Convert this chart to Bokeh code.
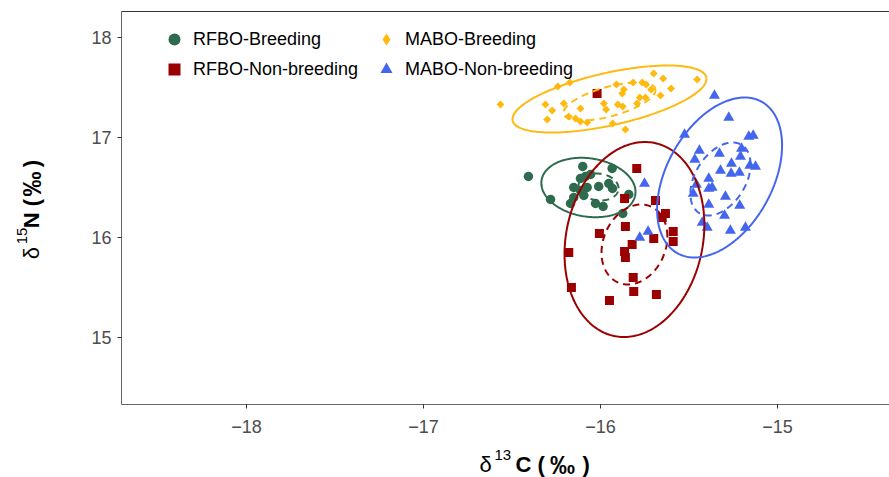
import numpy as np
from bokeh.plotting import figure
from bokeh.layouts import column, row
from bokeh.models import (Range1d, LinearAxis, FixedTicker, Legend, LegendItem)
from bokeh.core.properties import value
from bokeh.embed import file_html
from bokeh.resources import INLINE

# ---------------- data ----------------
rfbo_b_x = [-16.407, -16.282, -16.100, -15.934, -16.056, -16.113, -16.085, -16.151,
            -16.075, -16.010, -15.953, -15.932, -16.151, -16.094, -16.169, -16.028,
            -15.985, -15.840, -15.874, -16.113]
rfbo_b_y = [16.61, 16.38, 16.71, 16.69, 16.63, 16.59, 16.61, 16.50,
            16.50, 16.51, 16.54, 16.49, 16.40, 16.42, 16.34, 16.34,
            16.31, 16.43, 16.24, 16.47]

rfbo_nb_x = [-15.795, -15.864, -15.689, -15.633, -15.651, -15.589, -15.589, -15.699,
             -15.859, -16.006, -15.821, -15.864, -15.859, -16.179, -16.164, -15.815,
             -15.812, -15.684, -15.949, -16.019]
rfbo_nb_y = [16.69, 16.39, 16.37, 16.24, 16.20, 16.06, 15.96, 15.99,
             16.11, 16.04, 15.93, 15.86, 15.80, 15.85, 15.50, 15.60,
             15.46, 15.43, 15.37, 17.44]

mabo_b_x = [-16.565, -16.241, -16.173, -16.311, -16.273, -16.301, -16.207, -16.179,
            -16.113, -16.141, -16.113, -16.075, -15.981, -15.968, -15.931, -15.859,
            -15.910, -15.868, -15.877, -15.815, -15.764, -15.742, -15.902, -15.874,
            -15.793, -15.778, -15.746, -15.714, -15.699, -15.646, -15.661, -15.601,
            -15.454]
mabo_b_y = [17.33, 17.51, 17.55, 17.33, 17.27, 17.18, 17.34, 17.21,
            17.29, 17.19, 17.16, 17.15, 17.34, 17.28, 17.14, 17.08,
            17.53, 17.48, 17.44, 17.55, 17.55, 17.53, 17.33, 17.31,
            17.34, 17.40, 17.40, 17.48, 17.64, 17.59, 17.42, 17.49,
            17.58]

mabo_nb_x = [-15.356, -15.275, -15.525, -15.162, -15.137, -15.441, -15.328, -15.203,
             -15.209, -15.467, -15.260, -15.156, -15.124, -15.322, -15.262, -15.215,
             -15.388, -15.458, -15.388, -15.369, -15.476, -15.294, -15.388, -15.213,
             -15.299, -15.425, -15.397, -15.266, -15.181, -15.751, -15.731, -15.778]
mabo_nb_y = [17.42, 17.20, 17.03, 17.01, 17.02, 16.87, 16.84, 16.89,
             16.81, 16.78, 16.74, 16.72, 16.71, 16.67, 16.64, 16.65,
             16.59, 16.53, 16.49, 16.50, 16.44, 16.41, 16.33, 16.32,
             16.22, 16.15, 16.10, 16.07, 16.10, 16.54, 16.06, 16.00]

# ellipses: centre x, centre y, x half-extent, y half-extent, correlation
ell_groups = ["RFBO-Breeding", "RFBO-Non-breeding", "MABO-Breeding", "MABO-Non-breeding"]
ell_cx = [-16.068, -15.808, -15.949, -15.327]
ell_cy = [16.50, 15.98, 17.385, 16.60]
ell_sx = [0.266, 0.395, 0.548, 0.353]
ell_sy = [0.297, 0.975, 0.335, 0.80]
ell_r = [-0.15, 0.15, 0.60, 0.40]
sea_cx = [-16.011, -15.808, -15.949, -15.322]
sea_cy = [16.505, 15.93, 17.36, 16.585]
sea_sx = [0.113, 0.186, 0.26, 0.17]
sea_sy = [0.135, 0.40, 0.19, 0.365]
sea_r = [-0.10, 0.20, 0.60, 0.40]

x_ticks = [-18, -17, -16, -15]
x_tick_labels = ["\u221218", "\u221217", "\u221216", "\u221215"]
y_ticks = [15, 16, 17, 18]
y_tick_labels = ["15", "16", "17", "18"]

GREEN = "#2E6B4E"
RED = "#9B0000"
GOLD = "#FFB90F"
BLUE = "#4466EE"
FONT = "Liberation Sans"

W, H = 889, 477
YT_W = 60          # width of the strip that holds the y-axis title
MAIN_H = 444       # height of the main figure
XT_H = H - MAIN_H  # strip that holds the x-axis title


def ellipse_pts(cx, cy, sx, sy, r, n=240):
    t = np.linspace(0, 2 * np.pi, n)
    return cx + sx * np.cos(t), cy + sy * (r * np.cos(t) + np.sqrt(1 - r * r) * np.sin(t))


p = figure(width=W - YT_W, height=MAIN_H,
           x_range=Range1d(-18.706, -14.367), y_range=Range1d(14.33, 18.26),
           output_backend="svg", toolbar_location=None,
           min_border_left=121 - YT_W, min_border_right=0, min_border_top=11,
           min_border_bottom=MAIN_H - 404)
p.title.visible = False
p.grid.visible = False
p.outline_line_color = None
p.background_fill_color = "white"
p.border_fill_color = "white"

for ax, ticks, labels in [(p.xaxis[0], x_ticks, x_tick_labels), (p.yaxis[0], y_ticks, y_tick_labels)]:
    ax.ticker = FixedTicker(ticks=ticks)
    ax.major_label_overrides = {t: l for t, l in zip(ticks, labels)}
    ax.minor_tick_line_color = None
    ax.major_tick_in = 0
    ax.major_tick_out = 4
    ax.major_tick_line_color = "#333333"
    ax.axis_line_color = "#666666"
    ax.major_label_text_font = FONT
    ax.major_label_text_font_size = "18px"
    ax.major_label_text_color = "#4D4D4D"
p.xaxis[0].major_label_standoff = 11
p.yaxis[0].major_label_standoff = 6

top = LinearAxis(ticker=FixedTicker(ticks=[]), axis_line_color="#333333",
                 major_label_text_font_size="0px", minor_tick_line_color=None,
                 major_tick_line_color=None)
p.add_layout(top, "above")

# points
r_g = p.scatter(rfbo_b_x, rfbo_b_y, marker="circle", size=9.5, fill_color=GREEN, line_color=None)
r_r = p.scatter(rfbo_nb_x, rfbo_nb_y, marker="square", size=9, fill_color=RED, line_color=None)
r_y = p.scatter(mabo_b_x, mabo_b_y, marker="square", angle=np.pi / 4, size=5.6,
                fill_color=GOLD, line_color=None)
r_b = p.scatter(mabo_nb_x, mabo_nb_y, marker="triangle", size=11, fill_color=BLUE, line_color=None)

# ellipses
cols = [GREEN, RED, GOLD, BLUE]
for i in range(4):
    ex, ey = ellipse_pts(ell_cx[i], ell_cy[i], ell_sx[i], ell_sy[i], ell_r[i])
    p.line(ex, ey, line_color=cols[i], line_width=2)
    sx, sy = ellipse_pts(sea_cx[i], sea_cy[i], sea_sx[i], sea_sy[i], sea_r[i])
    p.line(sx, sy, line_color=cols[i], line_width=2, line_dash="7 5")

# legend swatch for the diamond: hidden copy of the same data drawn with a diamond marker
r_y_leg = p.scatter(mabo_b_x, mabo_b_y, marker="diamond", size=10, fill_color=GOLD,
                    line_color=None, visible=False)

leg_kw = dict(padding=0, spacing=0, margin=0, border_line_color=None, background_fill_alpha=0,
              glyph_width=30, glyph_height=30, label_standoff=4, label_height=30,
              inactive_fill_alpha=0,
              label_text_font=FONT, label_text_font_size="18px", label_text_color="black")
leg1 = Legend(items=[LegendItem(label="RFBO-Breeding", renderers=[r_g]),
                     LegendItem(label="RFBO-Non-breeding", renderers=[r_r])],
              location=(38, 320), **leg_kw)
leg2 = Legend(items=[LegendItem(label="MABO-Breeding", renderers=[r_y_leg]),
                     LegendItem(label="MABO-Non-breeding", renderers=[r_b])],
              location=(250, 320), **leg_kw)
p.add_layout(leg1)
p.add_layout(leg2)


# ---------------- axis-title strips ----------------
def strip(w, h):
    f = figure(width=w, height=h, x_range=Range1d(0, w), y_range=Range1d(0, h),
               output_backend="svg", toolbar_location=None,
               x_axis_location=None, y_axis_location=None,
               min_border=0, min_border_left=0, min_border_right=0,
               min_border_top=0, min_border_bottom=0)
    f.title.visible = False
    f.grid.visible = False
    f.outline_line_color = None
    f.background_fill_color = "white"
    f.border_fill_color = "white"
    return f


def put(f, fh, ox, oy, px, py, text, size, bold=False, angle=0.0, align="left"):
    # px, py: canvas pixels of the whole picture; ox, oy: strip's top-left in the picture
    f.text(x=[px - ox], y=[fh - (py - oy)], text=[text], angle=angle,
           text_align=align, text_baseline="alphabetic",
           text_font=value(FONT), text_font_size=value(size),
           text_font_style=value("bold" if bold else "normal"), text_color="black")


xt = strip(W, XT_H)
DY = -8  # measured rendering offset of the text glyph (kept clear of the strip edges)
for args in [(479, 472 + DY, "\u03b4", "22px", False),
             (494, 462 + DY, "13", "15px", False),
             (515, 472 + DY, "C", "22px", True),
             (537, 472 + DY, "(", "22px", True),
             (562, 472 + DY, "\u2030", "25px", True, 0.0, "center"),
             (582, 472 + DY, ")", "22px", True)]:
    put(xt, XT_H, 0, MAIN_H, *args)

yt = strip(YT_W, MAIN_H)
YA = np.pi / 2
DXr, DYr = -8, 15  # measured rendering offsets of the rotated text glyph
for args in [(39, 265, "\u03b4", "22px", False, YA),
             (29, 248, "15", "15px", False, YA),
             (39, 230, "N", "22px", True, YA),
             (39, 205, "(", "22px", True, YA),
             (39, 180, "\u2030", "25px", True, YA, "center"),
             (39, 161, ")", "22px", True, YA)]:
    px, py = args[0] + DXr, args[1] + DYr
    put(yt, MAIN_H, 0, 0, px, py, *args[2:])

layout = column(row(yt, p), xt)
open("out.html", "w").write(file_html(layout, INLINE))
